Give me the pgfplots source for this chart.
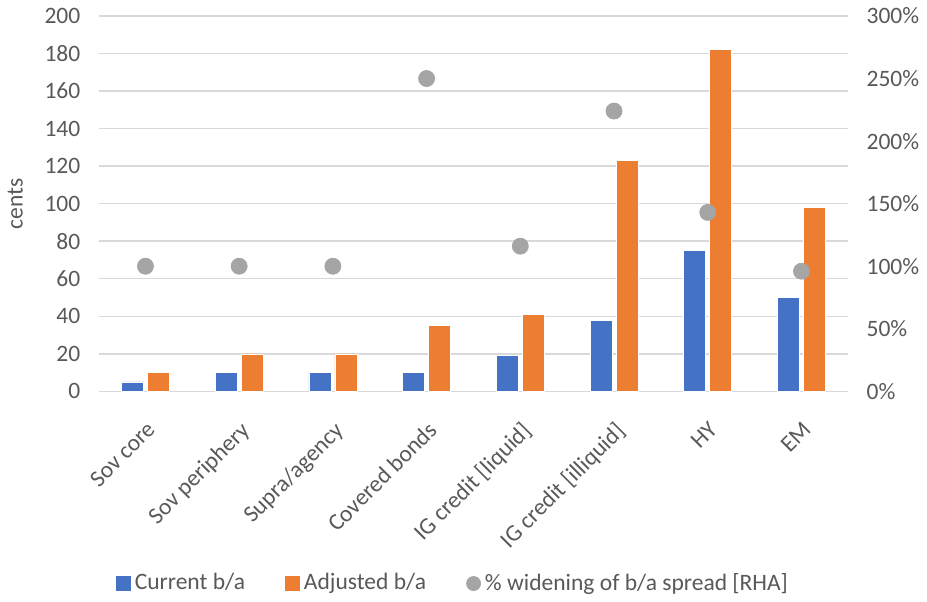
\documentclass[border=0pt]{standalone}
\usepackage{pgfplots}
\pgfplotsset{compat=1.18}
\usepackage{pgfplotstable}
\usepackage{fontspec}
\setmainfont{Carlito}
\definecolor{cblue}{HTML}{4472C4}
\definecolor{corange}{HTML}{ED7D31}
\definecolor{cgray}{HTML}{A5A5A5}
\definecolor{ctext}{HTML}{595959}
\definecolor{cgrid}{HTML}{D9D9D9}

% bid/ask spreads (cents) and the widening in percent
\pgfplotstableread{
x cur adj wid
0 5   10  100
1 10  20  100
2 10  20  100
3 10  35  250
4 19  41  116
5 38  123 224
6 75  182 143
7 50  98  96
}\datatable

\begin{document}
\fontsize{11.75}{14}\selectfont
\begin{tikzpicture}
\pgfplotsset{
  base/.style={
    width=374.5pt, height=187.5pt, scale only axis,
    xmin=-0.5, xmax=7.5,
    axis line style={draw=none},
    tick style={draw=none},
    ticklabel style={font=\fontsize{11.75}{14}\selectfont, text=ctext},
    /pgf/number format/assume math mode=true,
  }
}
\begin{axis}[base,
  ymin=0, ymax=200, ytick={0,20,...,200},
  yticklabel style={xshift=-5pt},
  ymajorgrids, grid style={cgrid, line width=0.75pt},
  xtick=data,
  xticklabels={Sov core, Sov periphery, Supra/agency, Covered bonds, IG credit [liquid], IG credit [illiquid], HY, EM},
  xticklabel style={rotate=45, anchor=north east, inner sep=2pt, xshift=-5pt, yshift=-5pt},
  ylabel={cents},
  ylabel style={text=ctext, font=\fontsize{11.75}{14}\selectfont,
    at={(axis description cs:-0.111,0.5)}, anchor=center},
  ybar, bar width=11pt,
]
\addplot[ybar, fill=cblue, draw=white, line width=0.3pt, bar shift=-6.5pt] table[x=x,y=cur]{\datatable};
\addplot[ybar, fill=corange, draw=white, line width=0.3pt, bar shift=6.5pt] table[x=x,y=adj]{\datatable};
\end{axis}
\begin{axis}[base,
  axis y line*=right, axis x line=none,
  ymin=0, ymax=300, ytick={0,50,...,300},
  yticklabel={\pgfmathprintnumber{\tick}\%},
  yticklabel style={xshift=5pt},
  xtick=\empty,
  legend columns=3,
  legend style={at={(0.474,-0.512)}, anchor=center, draw=none,
    font=\fontsize{11.75}{14}\selectfont, text=ctext,
    /tikz/every even column/.append style={column sep=18pt}},
]
\addlegendimage{legend image code/.code={\fill[cblue] (0pt,-3.5pt) rectangle (7pt,3.5pt);}}
\addlegendentry{Current b/a}
\addlegendimage{legend image code/.code={\fill[corange] (0pt,-3.5pt) rectangle (7pt,3.5pt);}}
\addlegendentry{Adjusted b/a}
\addplot[only marks, mark=*, mark size=4pt, color=cgray,
  legend image code/.code={\fill[cgray] (3.5pt,0pt) circle (3.5pt);}]
  table[x=x,y=wid]{\datatable};
\addlegendentry{\% widening of b/a spread [RHA]}
\end{axis}
\end{tikzpicture}
\end{document}
